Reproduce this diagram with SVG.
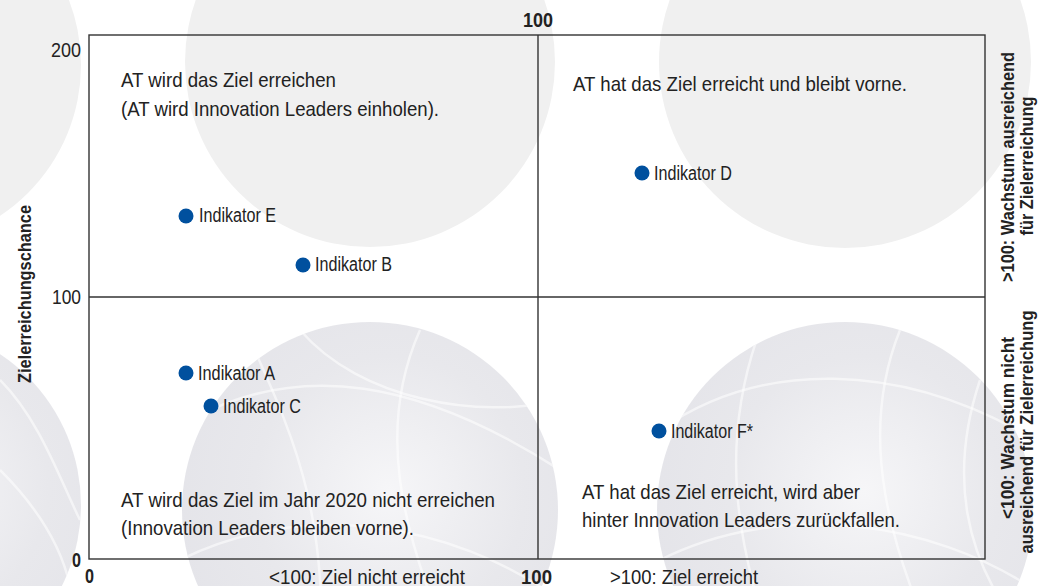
<svg xmlns="http://www.w3.org/2000/svg" width="1045" height="586" viewBox="0 0 1045 586">
<style>
.t{font-family:"Liberation Sans",Arial,sans-serif;font-size:21px;fill:#222}
.ind{font-family:"Liberation Sans",Arial,sans-serif;font-size:19.5px;fill:#222}
.b{font-family:"Liberation Sans",Arial,sans-serif;font-size:18.5px;font-weight:bold;fill:#222}
.n{font-family:"Liberation Sans",Arial,sans-serif;font-size:21px;fill:#222}
.nb{font-family:"Liberation Sans",Arial,sans-serif;font-size:21px;font-weight:bold;fill:#222}
.dot{fill:#00509e}
.frame{fill:none;stroke:#333;stroke-width:1.4}
.bg{fill:#f0f0f0}
.sph{fill:url(#sg)}
.tex{fill:none;stroke:#fff;stroke-opacity:0.55;stroke-width:2.5}
</style>
<defs>
<radialGradient id="sg" cx="0.55" cy="0.45" r="0.6">
<stop offset="0" stop-color="#f6f6f8"/>
<stop offset="0.6" stop-color="#e8e8ec"/>
<stop offset="1" stop-color="#e4e4e9"/>
</radialGradient>
<clipPath id="c1"><circle cx="370" cy="510" r="188"/></clipPath>
<clipPath id="c2"><circle cx="845" cy="510" r="188"/></clipPath>
<clipPath id="c3"><circle cx="-100" cy="505" r="181"/></clipPath>
</defs>
<rect width="1045" height="586" fill="#fff"/>
<g id="background">
<circle class="bg" cx="-100" cy="65" r="181"/>
<circle class="bg" cx="370" cy="62" r="185"/>
<circle class="bg" cx="845" cy="62" r="186"/>
<circle class="sph" cx="-100" cy="505" r="181"/>
<circle class="sph" cx="370" cy="510" r="188"/>
<circle class="sph" cx="845" cy="510" r="188"/>
<g clip-path="url(#c1)">
<path class="tex" d="M190 420 C 300 360, 420 380, 560 470"/>
<path class="tex" d="M250 340 C 300 450, 330 520, 320 700"/>
<path class="tex" d="M420 330 C 380 420, 390 520, 470 690"/>
<path class="tex" d="M180 560 C 300 500, 450 520, 560 600"/>
<path class="tex" d="M300 330 C 360 400, 480 420, 560 400"/>
</g>
<g clip-path="url(#c2)">
<path class="tex" d="M660 430 C 760 360, 900 360, 1035 440"/>
<path class="tex" d="M760 330 C 720 440, 730 540, 790 700"/>
<path class="tex" d="M900 330 C 860 430, 880 540, 960 700"/>
<path class="tex" d="M660 560 C 780 500, 930 520, 1035 590"/>
<path class="tex" d="M980 380 C 950 470, 960 560, 1030 640"/>
</g>
<g clip-path="url(#c3)">
<path class="tex" d="M0 380 C 40 420, 60 480, 80 520"/>
<path class="tex" d="M0 470 C 30 500, 60 540, 70 586"/>
</g>
</g>
<g id="axes">
<rect class="frame" x="89" y="35" width="896" height="524"/>
<line class="frame" x1="538" y1="35" x2="538" y2="559"/>
<line class="frame" x1="89" y1="297" x2="985" y2="297"/>
</g>
<g id="axis-labels">
<text class="n" x="81" y="57" text-anchor="end" textLength="30" lengthAdjust="spacingAndGlyphs">200</text>
<text class="n" x="81" y="304" text-anchor="end" textLength="29" lengthAdjust="spacingAndGlyphs">100</text>
<text class="nb" x="81" y="567" text-anchor="end" textLength="9" lengthAdjust="spacingAndGlyphs">0</text>
<text class="nb" x="85" y="583" textLength="9" lengthAdjust="spacingAndGlyphs">0</text>
<text class="nb" x="521" y="584" textLength="31" lengthAdjust="spacingAndGlyphs">100</text>
<text class="nb" x="523" y="27" textLength="30" lengthAdjust="spacingAndGlyphs">100</text>
<text class="n" x="269" y="584" textLength="196" lengthAdjust="spacingAndGlyphs">&lt;100: Ziel nicht erreicht</text>
<text class="n" x="610" y="584" textLength="148" lengthAdjust="spacingAndGlyphs">&gt;100: Ziel erreicht</text>
<text class="b" transform="translate(31,294) rotate(-90)" text-anchor="middle" textLength="178" lengthAdjust="spacingAndGlyphs">Zielerreichungschance</text>
<text class="b" transform="translate(1014,167) rotate(-90)" text-anchor="middle" textLength="230" lengthAdjust="spacingAndGlyphs">&gt;100: Wachstum ausreichend</text>
<text class="b" transform="translate(1033,166) rotate(-90)" text-anchor="middle" textLength="139" lengthAdjust="spacingAndGlyphs">für Zielerreichung</text>
<text class="b" transform="translate(1014,428) rotate(-90)" text-anchor="middle" textLength="182" lengthAdjust="spacingAndGlyphs">&lt;100: Wachstum nicht</text>
<text class="b" transform="translate(1033,432) rotate(-90)" text-anchor="middle" textLength="243" lengthAdjust="spacingAndGlyphs">ausreichend für Zielerreichung</text>
</g>
<g id="quadrant-top-left">
<text class="t" x="121" y="87" textLength="215" lengthAdjust="spacingAndGlyphs">AT wird das Ziel erreichen</text>
<text class="t" x="121" y="116" textLength="318" lengthAdjust="spacingAndGlyphs">(AT wird Innovation Leaders einholen).</text>
</g>
<g id="quadrant-top-right">
<text class="t" x="573" y="91" textLength="334" lengthAdjust="spacingAndGlyphs">AT hat das Ziel erreicht und bleibt vorne.</text>
</g>
<g id="quadrant-bottom-left">
<text class="t" x="121" y="507" textLength="374" lengthAdjust="spacingAndGlyphs">AT wird das Ziel im Jahr 2020 nicht erreichen</text>
<text class="t" x="121" y="535" textLength="293" lengthAdjust="spacingAndGlyphs">(Innovation Leaders bleiben vorne).</text>
</g>
<g id="quadrant-bottom-right">
<text class="t" x="582" y="499" textLength="278" lengthAdjust="spacingAndGlyphs">AT hat das Ziel erreicht, wird aber</text>
<text class="t" x="582" y="527" textLength="318" lengthAdjust="spacingAndGlyphs">hinter Innovation Leaders zurückfallen.</text>
</g>
<g id="indikator-e">
<circle class="dot" cx="186" cy="216" r="7.5"/>
<text class="ind" x="199" y="222" textLength="77" lengthAdjust="spacingAndGlyphs">Indikator E</text>
</g>
<g id="indikator-b">
<circle class="dot" cx="303" cy="265" r="7.5"/>
<text class="ind" x="315" y="271" textLength="77" lengthAdjust="spacingAndGlyphs">Indikator B</text>
</g>
<g id="indikator-d">
<circle class="dot" cx="642" cy="173" r="7.5"/>
<text class="ind" x="654" y="180" textLength="78" lengthAdjust="spacingAndGlyphs">Indikator D</text>
</g>
<g id="indikator-a">
<circle class="dot" cx="186" cy="373" r="7.5"/>
<text class="ind" x="198" y="380" textLength="77" lengthAdjust="spacingAndGlyphs">Indikator A</text>
</g>
<g id="indikator-c">
<circle class="dot" cx="211" cy="406" r="7.5"/>
<text class="ind" x="223" y="413" textLength="78" lengthAdjust="spacingAndGlyphs">Indikator C</text>
</g>
<g id="indikator-f">
<circle class="dot" cx="659" cy="431" r="7.5"/>
<text class="ind" x="671" y="438" textLength="82" lengthAdjust="spacingAndGlyphs">Indikator F*</text>
</g>
</svg>
